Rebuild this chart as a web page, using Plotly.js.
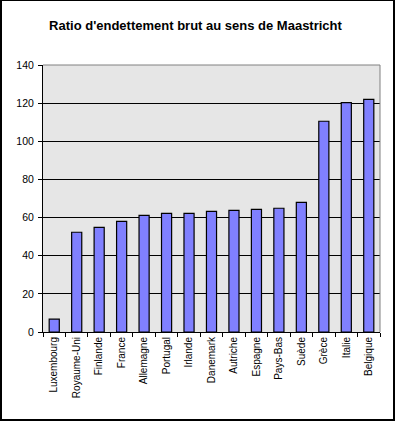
<!DOCTYPE html>
<html>
<head>
<meta charset="utf-8">
<script src="https://cdn.plot.ly/plotly-3.0.1.min.js"></script>
<style>
html, body { margin: 0; padding: 0; background: #ffffff; }
#frame { position: absolute; left: 0; top: 0; width: 391px; height: 418px; border-style: solid; border-color: #000; border-width: 1px 2px 2px 2px; background: #fff; }
#chart { position: absolute; left: -2px; top: -1px; width: 395px; height: 421px; }
</style>
</head>
<body>
<div id="frame"><div id="chart"></div></div>
<script>
const countries = ["Luxembourg", "Royaume-Uni", "Finlande", "France", "Allemagne", "Portugal", "Irlande", "Danemark", "Autriche", "Espagne", "Pays-Bas", "Suède", "Grèce", "Italie", "Belgique"];
const ratios = [6.7, 52.3, 54.9, 58.0, 61.2, 62.2, 62.2, 63.2, 63.8, 64.3, 64.9, 68.0, 110.5, 120.3, 122.0];
const yTicks = [0, 20, 40, 60, 80, 100, 120, 140];
const chartTitle = "Ratio d'endettement brut au sens de Maastricht";

const trace = {
  type: "bar",
  x: countries,
  y: ratios,
  marker: { color: "#8080FF", line: { color: "#000000", width: 1.2 } },
  hoverinfo: "x+y"
};

const layout = {
  width: 395,
  height: 421,
  margin: { l: 43, r: 15, t: 65, b: 89, pad: 0 },
  paper_bgcolor: "rgba(0,0,0,0)",
  plot_bgcolor: "#E6E6E6",
  showlegend: false,
  bargap: 0.55,
  font: { family: "Liberation Sans, Arial, sans-serif", size: 10, color: "#000" },
  title: {
    text: chartTitle,
    font: { family: "Liberation Sans, Arial, sans-serif", size: 13, color: "#000", weight: "bold" },
    x: 195.5 / 395, xanchor: "center", xref: "container",
    y: 1 - 25 / 421, yanchor: "middle", yref: "container"
  },
  xaxis: {
    type: "category",
    tickangle: -90,
    showline: true, linecolor: "#000", linewidth: 1,
    ticks: "outside", ticklen: 4, tickcolor: "#000", tickwidth: 1,
    tickson: "boundaries",
    showgrid: false,
    tickfont: { size: 10 },
    fixedrange: true
  },
  yaxis: {
    range: [0, 140],
    tickvals: yTicks,
    ticktext: yTicks.map(String),
    showline: true, linecolor: "#000", linewidth: 1,
    ticks: "outside", ticklen: 4, tickcolor: "#000", tickwidth: 1,
    ticklabelstandoff: 2,
    showgrid: true, gridcolor: "#000", gridwidth: 1,
    zeroline: false,
    tickfont: { size: 10.5 },
    fixedrange: true
  },
  shapes: [
    { type: "line", xref: "paper", yref: "paper", x0: 0, x1: 1, y0: 1, y1: 1, line: { color: "#808080", width: 1 }, layer: "above" },
    { type: "line", xref: "paper", yref: "paper", x0: 1, x1: 1, y0: 0, y1: 1, line: { color: "#808080", width: 1 }, layer: "above" }
  ]
};

Plotly.newPlot("chart", [trace], layout, { displayModeBar: false, staticPlot: true });
</script>
</body>
</html>
